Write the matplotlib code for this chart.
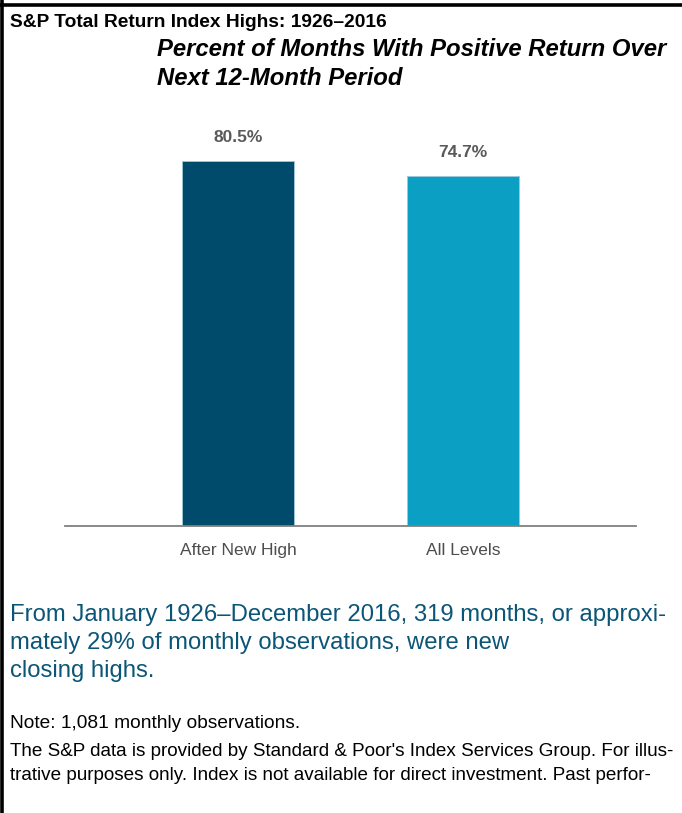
import matplotlib
matplotlib.use("Agg")
import matplotlib.pyplot as plt
from matplotlib.lines import Line2D
import numpy as np

# data
categories = ["After New High", "All Levels"]
values = [80.5, 74.7]
bar_labels = ["80.5%", "74.7%"]
bar_colors = ["#004B6B", "#0C9FC4"]
axis_floor = -60.6   # the chart's value axis doesn't start at zero

plt.rcParams["font.family"] = ["Liberation Sans", "DejaVu Sans"]

fig = plt.figure(figsize=(6.82, 8.13), dpi=100)
ax = fig.add_axes([0.0953, 0.353, 0.8373, 0.499])

x = np.arange(len(categories))
heights = [v - axis_floor for v in values]
ax.bar(x, heights, bottom=axis_floor, width=0.5, color=bar_colors,
       edgecolor="#9FC9D9", linewidth=0.6)
for xi, v, lab in zip(x, values, bar_labels):
    ax.annotate(lab, (xi, v), xytext=(0, 11.5), textcoords="offset points",
                ha="center", va="bottom", fontsize=12.5, color="#595959",
                fontweight="bold")

ax.set_xlim(-0.77, 1.77)
ax.set_ylim(axis_floor, axis_floor + 157)
ax.set_xticks(x)
ax.set_xticklabels(categories, fontsize=12.5, color="#4d4d4d")
ax.tick_params(axis="x", length=0, pad=12)
ax.set_yticks([])
for s in ["top", "right", "left"]:
    ax.spines[s].set_visible(False)
ax.spines["bottom"].set_color("#808080")
ax.spines["bottom"].set_linewidth(1.3)

# titles
H = 813.0
def fy(py):
    return 1 - py / H

fig.text(10 / 682, fy(27), "S&P Total Return Index Highs: 1926\u20132016",
         fontsize=13.8, fontweight="bold", va="baseline", ha="left")
fig.text(157 / 682, fy(56), "Percent of Months With Positive Return Over",
         fontsize=17.2, fontweight="bold", style="italic", va="baseline", ha="left")
fig.text(157 / 682, fy(85), "Next 12-Month Period",
         fontsize=17.2, fontweight="bold", style="italic", va="baseline", ha="left")

blue = "#0B5577"
blurb = ["From January 1926\u2013December 2016, 319 months, or approxi-",
         "mately 29% of monthly observations, were new",
         "closing highs."]
for i, line in enumerate(blurb):
    fig.text(10 / 682, fy(621 + 28 * i), line, fontsize=17.2, color=blue,
             va="baseline", ha="left")

fig.text(10 / 682, fy(728), "Note: 1,081 monthly observations.",
         fontsize=13.8, va="baseline", ha="left")
notes = ["The S&P data is provided by Standard & Poor's Index Services Group. For illus-",
         "trative purposes only. Index is not available for direct investment. Past perfor-"]
for i, line in enumerate(notes):
    fig.text(10 / 682, fy(756 + 23.5 * i), line, fontsize=13.55,
             va="baseline", ha="left")

# frame: top and left rules only
fig.add_artist(Line2D([0, 1], [fy(5.5), fy(5.5)], color="black", linewidth=2.6,
                      transform=fig.transFigure))
fig.add_artist(Line2D([1.5 / 682, 1.5 / 682], [0, 1], color="black", linewidth=2.6,
                      transform=fig.transFigure))

fig.savefig("out.png", dpi=100)
